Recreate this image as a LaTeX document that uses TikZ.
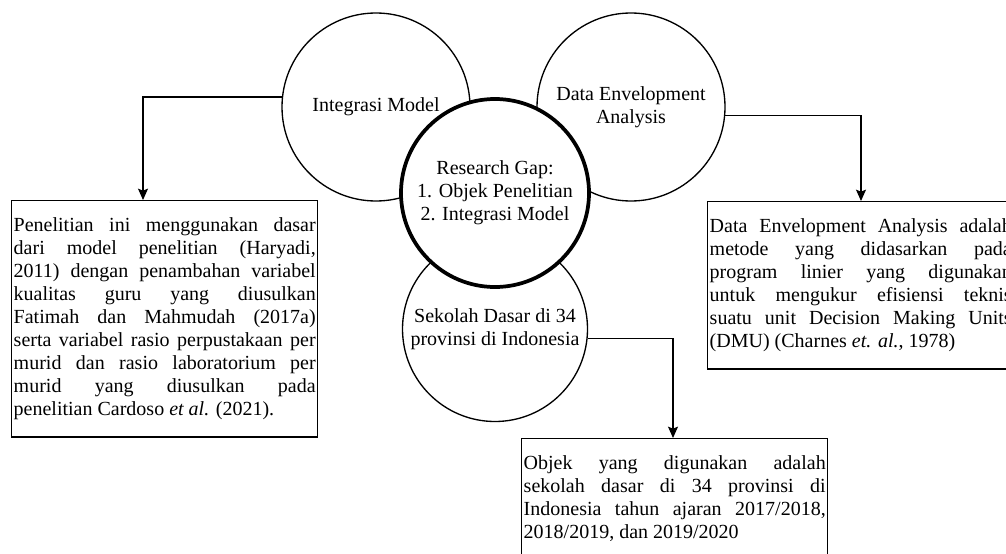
\documentclass[tikz,border=0pt]{standalone}
\usepackage{fontspec}
\setmainfont{Liberation Serif}
\usetikzlibrary{arrows.meta,calc}
\definecolor{inkc}{HTML}{000000}
\newcommand{\notefont}{\fontsize{15}{17.25}\selectfont\hyphenpenalty=10000\tolerance=10000}
\tikzset{
  bub/.style  ={circle,draw=inkc,line width=1pt,fill=white,inner sep=0pt,
                minimum size=141pt,align=center,font=\notefont},
  gapb/.style ={bub,line width=2.8pt},
  note/.style ={rectangle,draw=inkc,line width=1.1pt,fill=white,anchor=north west,
                text width=226.5pt,inner xsep=1.5pt,inner ysep=12.75pt,
                align=justify,font=\notefont},
  ar/.style   ={-{Stealth[length=8.5pt,width=7.5pt,inset=1.5pt]},draw=inkc,line width=1pt},
}

\begin{document}
\begin{tikzpicture}[x=0.75pt,y=-0.75pt]
\useasboundingbox (0,0) rectangle (1006,553);

% ---------- circles ------------------------------------------------------
\node[bub] (intg) at (376,107) {Integrasi Model};
\node[bub] (dea)  at (631,107) {Data Envelopment\\Analysis};
\node[bub,minimum size=138.75pt] (sd) at (495,329) {Sekolah Dasar di 34\\provinsi di Indonesia};
\node[gapb] (gap) at (495,193) {Research Gap:\\1. Objek Penelitian\\2. Integrasi Model};

% ---------- notes --------------------------------------------------------
\node[note] (lnote) at (11,200)
  {Penelitian ini menggunakan dasar\linebreak
   dari model penelitian (Haryadi,\linebreak
   2011) dengan penambahan variabel\linebreak
   kualitas guru yang diusulkan\linebreak
   Fatimah dan Mahmudah (2017a)\linebreak
   serta variabel rasio perpustakaan per\linebreak
   murid dan rasio laboratorium per\linebreak
   murid yang diusulkan pada\linebreak
   penelitian Cardoso \textit{et al.} (2021).\par\vspace{13pt}};
\node[note] (rnote) at (707,201)
  {Data Envelopment Analysis adalah\linebreak
   metode yang didasarkan pada\linebreak
   program linier yang digunakan\linebreak
   untuk mengukur efisiensi teknis\linebreak
   suatu unit Decision Making Units\linebreak
   (DMU) (Charnes \textit{et. al.}, 1978)};
\node[note] (bnote) at (521,438)
  {Objek yang digunakan adalah\linebreak
   sekolah dasar di 34 provinsi di\linebreak
   Indonesia tahun ajaran 2017/2018,\linebreak
   2018/2019, dan 2019/2020};

% ---------- connectors ---------------------------------------------------
\draw[ar] (intg.174) -| ($(lnote.north west)+(132,0)$);
\draw[ar] (dea.-5)   -| ($(rnote.north west)+(154,0)$);
\draw[ar] (sd.-6)    -| ($(bnote.north west)+(152,0)$);
\end{tikzpicture}
\end{document}
